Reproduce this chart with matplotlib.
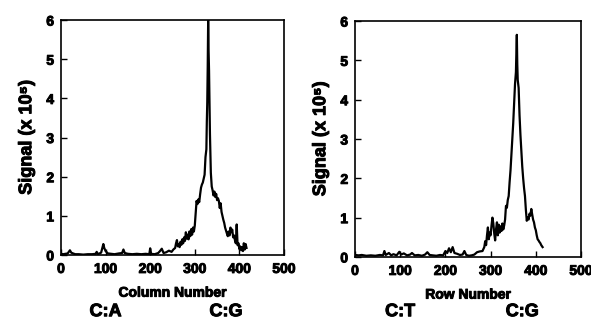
import matplotlib
matplotlib.use("Agg")
import matplotlib.pyplot as plt
import matplotlib.patheffects as pe
import matplotlib.transforms as mtransforms

plt.rcParams["font.family"] = ["Liberation Sans", "DejaVu Sans"]
plt.rcParams["font.weight"] = "bold"

# Column scan (left panel)
col_x = [
    0, 5, 10, 15, 20, 23, 27, 32, 40, 50,
    60, 70, 78, 80, 83, 90, 95, 97, 100, 105,
    112, 120, 130, 137, 140, 143, 150, 160, 170, 180,
    190, 198, 200, 202, 210, 218, 222, 226, 230, 236,
    242, 248, 252, 256, 258, 260, 262, 264, 266, 268,
    270, 272, 274, 276, 278, 280, 282, 284, 286, 288,
    290, 292, 294, 296, 298, 300, 302, 304, 306, 308,
    310, 312, 314, 316, 318, 320, 322, 324, 326, 327,
    328, 329, 330, 331, 332, 333, 334, 336, 338, 340,
    342, 344, 346, 348, 350, 352, 354, 356, 358, 360,
    362, 364, 366, 368, 370, 372, 374, 376, 378, 380,
    382, 384, 386, 388, 390, 392, 394, 396, 398, 400,
    402, 404, 406, 408, 410, 412, 414, 416]
col_y = [
    0.03, 0.02, 0.03, 0.04, 0.12, 0.06, 0.04, 0.02, 0.02, 0.01,
    0.02, 0.02, 0.03, 0.08, 0.02, 0.06, 0.28, 0.18, 0.10, 0.04,
    0.03, 0.02, 0.04, 0.05, 0.14, 0.05, 0.03, 0.02, 0.03, 0.02,
    0.03, 0.02, 0.17, 0.03, 0.02, 0.05, 0.10, 0.16, 0.05, 0.07,
    0.11, 0.08, 0.14, 0.18, 0.30, 0.38, 0.22, 0.28, 0.20, 0.34,
    0.26, 0.40, 0.30, 0.45, 0.36, 0.58, 0.42, 0.52, 0.40, 0.60,
    0.48, 0.66, 0.52, 0.70, 0.60, 0.75, 1.05, 1.38, 1.30, 1.42,
    1.35, 1.55, 1.72, 1.80, 1.85, 1.95, 2.05, 2.50, 2.70, 3.40,
    3.90, 4.80, 6.00, 5.20, 4.70, 3.90, 3.10, 2.10, 1.75, 1.65,
    1.52, 1.62, 1.48, 1.56, 1.40, 1.45, 1.38, 1.20, 1.32, 1.10,
    1.00, 0.90, 0.82, 0.70, 0.62, 0.55, 0.48, 0.60, 0.50, 0.70,
    0.58, 0.65, 0.45, 0.50, 0.38, 0.30, 0.78, 0.25, 0.30, 0.15,
    0.22, 0.12, 0.20, 0.10, 0.30, 0.14, 0.28, 0.18]

# Row scan (right panel)
row_x = [
    0, 8, 15, 25, 35, 45, 55, 62, 65, 68,
    75, 80, 85, 92, 98, 102, 108, 115, 122, 126,
    132, 140, 148, 155, 160, 165, 172, 180, 188, 195,
    200, 204, 208, 212, 216, 220, 226, 232, 238, 242,
    246, 252, 258, 264, 270, 276, 282, 286, 288, 290,
    292, 294, 296, 298, 300, 302, 304, 306, 308, 310,
    312, 314, 316, 318, 320, 322, 324, 326, 328, 330,
    332, 334, 336, 338, 340, 342, 344, 346, 348, 350,
    352, 354, 356, 357, 358, 359, 360, 362, 364, 366,
    368, 370, 372, 374, 376, 378, 380, 382, 384, 386,
    388, 390, 392, 394, 396, 398, 400, 402, 404, 406,
    408, 410, 412, 415]
row_y = [
    0.05, 0.04, 0.05, 0.03, 0.04, 0.03, 0.05, 0.04, 0.15, 0.05,
    0.10, 0.04, 0.07, 0.04, 0.13, 0.06, 0.09, 0.04, 0.06, 0.10,
    0.04, 0.05, 0.03, 0.06, 0.12, 0.05, 0.04, 0.03, 0.05, 0.04,
    0.15, 0.10, 0.22, 0.12, 0.25, 0.10, 0.08, 0.05, 0.06, 0.15,
    0.05, 0.03, 0.04, 0.06, 0.12, 0.14, 0.15, 0.25, 0.40, 0.30,
    0.55, 0.75, 0.45, 0.62, 0.55, 0.80, 1.00, 0.85, 0.60, 0.42,
    0.70, 0.88, 0.55, 0.82, 0.62, 0.78, 0.66, 0.85, 0.70, 0.80,
    0.95, 1.30, 1.25, 1.45, 1.55, 1.90, 2.20, 2.60, 3.00, 3.40,
    3.90, 4.40, 4.70, 5.20, 5.65, 4.90, 4.50, 4.30, 3.60, 3.10,
    2.70, 2.30, 2.00, 1.75, 1.55, 1.20, 0.92, 1.00, 0.95, 1.10,
    1.05, 1.22, 1.08, 0.95, 0.88, 0.75, 0.68, 0.55, 0.45, 0.42,
    0.38, 0.35, 0.30, 0.25]

panels = [
    (col_x, col_y, "Column Number", ["C:A", "C:G"], [0.1032, 0.213, 0.3773, 0.725]),
    (row_x, row_y, "Row Number", ["C:T", "C:G"], [0.6007, 0.207, 0.3824, 0.728]),
]
label_pos = [100, 370]

# thicken the glyphs a little, the original uses a very heavy face
heavy = [pe.withStroke(linewidth=0.7, foreground="black")]

fig = plt.figure(figsize=(5.91, 3.24), dpi=100)

for xs, ys, xlab, bases, rect in panels:
    ax = fig.add_axes(rect)
    ax.plot(xs, ys, color="black", lw=1.6)
    ax.set_xlim(0, 500)
    ax.set_ylim(0, 6)
    ax.set_xticks([0, 100, 200, 300, 400, 500])
    ax.set_yticks([0, 1, 2, 3, 4, 5, 6])
    ax.tick_params(direction="in", length=4, width=1, labelsize=10, pad=5)
    for lab in ax.get_xticklabels() + ax.get_yticklabels():
        lab.set_fontweight("bold")
        lab.set_path_effects(heavy)
    for sp in ax.spines.values():
        sp.set_linewidth(1.2)
    ax.set_xlabel(xlab, fontsize=10, fontweight="bold", labelpad=7, path_effects=heavy)
    ax.set_ylabel("Signal (x 10\u2075)", fontsize=13, fontweight="bold", labelpad=8,
                  path_effects=heavy)
    # base-pair annotations below the axis (x in data, y in figure)
    trans = mtransforms.blended_transform_factory(ax.transData, fig.transFigure)
    for xp, b in zip(label_pos, bases):
        ax.text(xp, 0.038, b, transform=trans, ha="center", va="center",
                fontsize=13, fontweight="bold", path_effects=heavy, clip_on=False)

fig.savefig("out.png", dpi=100)
